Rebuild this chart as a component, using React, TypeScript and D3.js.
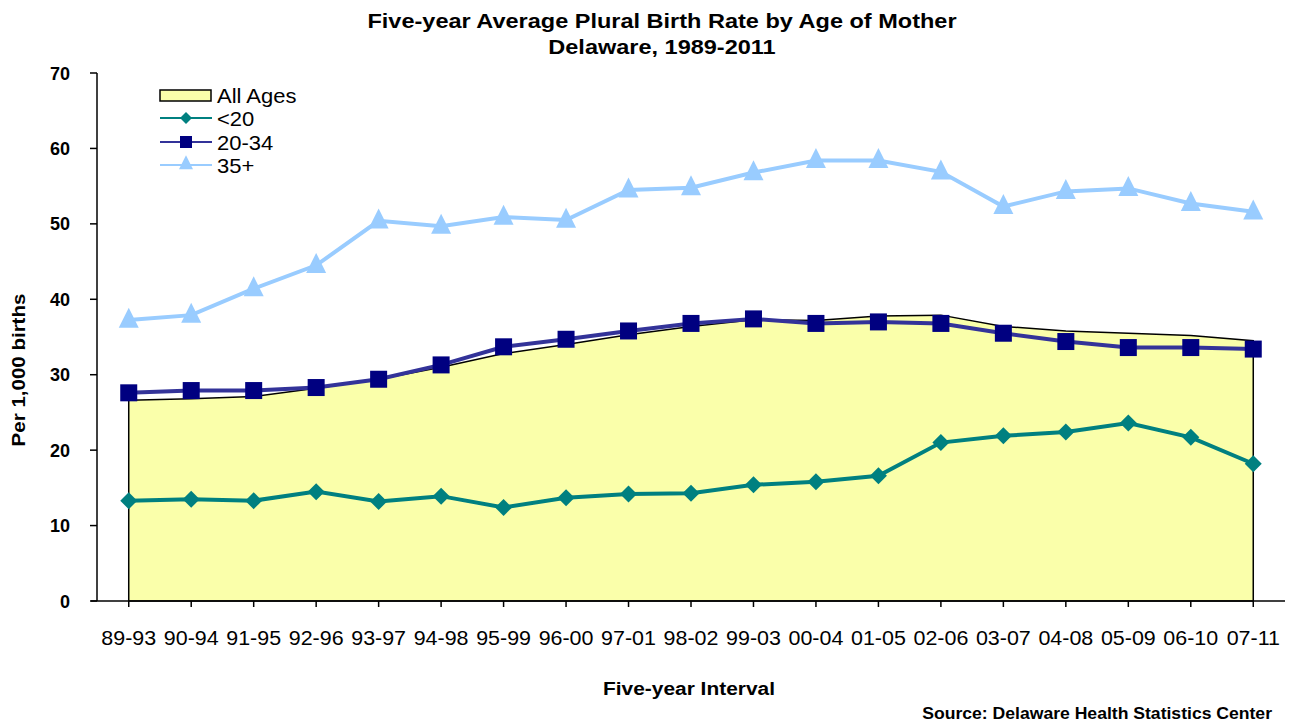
import React from "react";
import * as d3 from "d3";

const categories = ["89-93","90-94","91-95","92-96","93-97","94-98","95-99","96-00","97-01","98-02","99-03","00-04","01-05","02-06","03-07","04-08","05-09","06-10","07-11"];
const allAges = [26.6,26.8,27.1,28.2,29.4,31.0,32.8,34.0,35.3,36.4,37.3,37.2,37.8,37.9,36.4,35.8,35.5,35.2,34.5];
const under20 = [13.3,13.5,13.3,14.5,13.2,13.9,12.4,13.7,14.2,14.3,15.4,15.8,16.6,21.0,21.9,22.4,23.6,21.7,18.2];
const age2034 = [27.6,27.9,27.9,28.3,29.4,31.3,33.7,34.7,35.8,36.8,37.4,36.8,37.0,36.8,35.5,34.4,33.6,33.6,33.4];
const age35plus = [37.25,37.9,41.4,44.5,50.4,49.7,50.9,50.5,54.5,54.8,56.8,58.4,58.4,56.9,52.3,54.3,54.7,52.7,51.6];
const yTicks = [0,10,20,30,40,50,60,70];

const W = 1293, H = 723;
const FONT = "'Liberation Sans', Arial, sans-serif";
const plot = { left: 97, right: 1285, top: 73, bottom: 601 };

function T(props: { x: number; y: number; size: number; bold?: boolean; anchor?: string; sx?: number; rotate?: number; children: React.ReactNode }) {
  const { x, y, size, bold, anchor = "start", sx = 1.1, rotate = 0, children } = props;
  return (
    <text
      transform={`translate(${x},${y}) rotate(${rotate}) scale(${sx},1)`}
      textAnchor={anchor}
      fontSize={size}
      fontWeight={bold ? "bold" : "normal"}
      fill="#000"
    >
      {children}
    </text>
  );
}

export default function App() {
  const x = d3.scaleBand<string>().domain(categories).range([plot.left + 0.5, plot.right - 0.5]);
  const cx = (i: number) => (x(categories[i]) as number) + x.bandwidth() / 2;
  const y = d3.scaleLinear().domain([0, 70]).range([plot.bottom, plot.top]);

  const area = d3.area<number>().x((_, i) => cx(i)).y0(y(0)).y1((d) => y(d));
  const line = d3.line<number>().x((_, i) => cx(i)).y((d) => y(d));

  const diamond = (px: number, py: number, r: number) => `M${px},${py - r}L${px + r},${py}L${px},${py + r}L${px - r},${py}Z`;
  const tri = (px: number, py: number, s: number) => `M${px},${py - s * 0.62}L${px + s / 2},${py + s * 0.38}L${px - s / 2},${py + s * 0.38}Z`;

  const legendX = 160;
  const legendRows = [95, 118, 142, 165];

  return (
    <svg width={W} height={H} style={{ position: "absolute", left: 0, top: 0, background: "#fff" }} fontFamily={FONT}>
      <rect x={0} y={0} width={W} height={H} fill="#fff" />
      <T x={662} y={28} size={21} bold anchor="middle" sx={1.12}>Five-year Average Plural Birth Rate by Age of Mother</T>
      <T x={662} y={54} size={21} bold anchor="middle" sx={1.12}>Delaware, 1989-2011</T>

      {/* area */}
      <path d={area(allAges) as string} fill="#FAFFAA" stroke="#000" strokeWidth={1.5} />

      {/* axes */}
      <line x1={plot.left} x2={plot.left} y1={plot.top} y2={plot.bottom} stroke="#000" strokeWidth={1.5} />
      <line x1={plot.left - 6} x2={plot.right} y1={plot.bottom} y2={plot.bottom} stroke="#000" strokeWidth={1.5} />
      {yTicks.map((t) => (
        <g key={t}>
          <line x1={plot.left - 7} x2={plot.left} y1={y(t)} y2={y(t)} stroke="#000" strokeWidth={1.5} />
          <T x={70} y={y(t) + 6.5} size={18} bold anchor="end" sx={1}>{t}</T>
        </g>
      ))}
      {categories.map((c, i) => (
        <line key={"xt" + i} x1={cx(i)} x2={cx(i)} y1={plot.bottom} y2={plot.bottom + 6} stroke="#000" strokeWidth={1.5} />
      ))}
      {categories.map((c, i) => (
        <T key={c} x={cx(i)} y={645} size={19.5} anchor="middle">{c}</T>
      ))}

      {/* lines */}
      <path d={line(age35plus) as string} fill="none" stroke="#99CCFF" strokeWidth={4} />
      <path d={line(age2034) as string} fill="none" stroke="#333399" strokeWidth={4} />
      <path d={line(under20) as string} fill="none" stroke="#008080" strokeWidth={4} />

      {age35plus.map((d, i) => <path key={"t" + i} d={tri(cx(i), y(d), 20)} fill="#99CCFF" />)}
      {age2034.map((d, i) => <rect key={"s" + i} x={cx(i) - 8.5} y={y(d) - 8.5} width={17} height={17} fill="#000080" />)}
      {under20.map((d, i) => <path key={"d" + i} d={diamond(cx(i), y(d), 8.5)} fill="#008080" />)}

      {/* legend */}
      <rect x={legendX} y={legendRows[0] - 5} width={51} height={11} fill="#FAFFAA" stroke="#000" strokeWidth={1.5} />
      <T x={217} y={legendRows[0] + 8} size={20}>All Ages</T>
      <line x1={legendX} x2={legendX + 52} y1={legendRows[1]} y2={legendRows[1]} stroke="#008080" strokeWidth={2} />
      <path d={diamond(legendX + 26, legendRows[1], 6)} fill="#008080" />
      <T x={217} y={legendRows[1] + 8} size={20}>&lt;20</T>
      <line x1={legendX} x2={legendX + 52} y1={legendRows[2]} y2={legendRows[2]} stroke="#333399" strokeWidth={2} />
      <rect x={legendX + 20} y={legendRows[2] - 6} width={12} height={12} fill="#000080" />
      <T x={217} y={legendRows[2] + 8} size={20}>20-34</T>
      <line x1={legendX} x2={legendX + 52} y1={legendRows[3]} y2={legendRows[3]} stroke="#99CCFF" strokeWidth={2} />
      <path d={tri(legendX + 26, legendRows[3] - 1, 14)} fill="#99CCFF" />
      <T x={217} y={legendRows[3] + 8} size={20}>35+</T>

      {/* axis titles */}
      <T x={25} y={370} size={19} bold anchor="middle" rotate={-90} sx={1.08}>Per 1,000 births</T>
      <T x={689} y={695} size={19} bold anchor="middle">Five-year Interval</T>
      <T x={1272} y={719} size={16} bold anchor="end">Source: Delaware Health Statistics Center</T>
    </svg>
  );
}
